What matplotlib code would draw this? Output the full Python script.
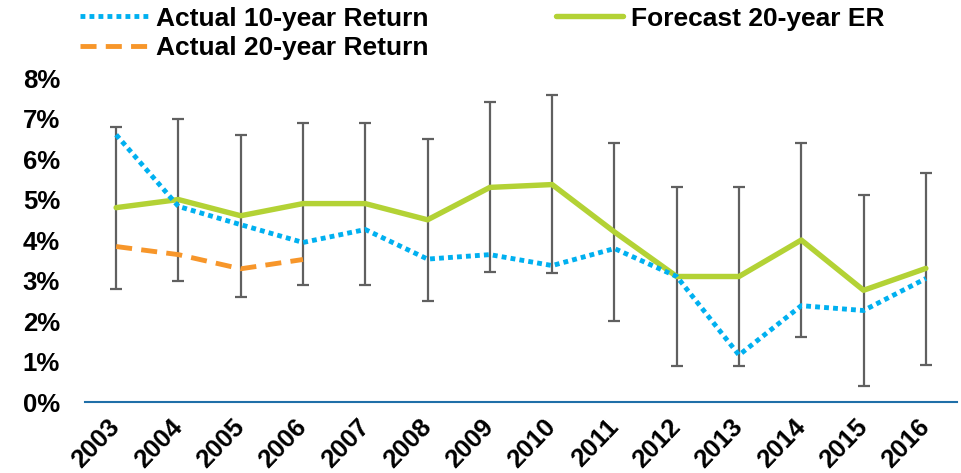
import matplotlib
matplotlib.use("Agg")
import matplotlib.pyplot as plt
import numpy as np

plt.rcParams['font.family'] = ['Liberation Sans', 'DejaVu Sans']
plt.rcParams['font.weight'] = 'bold'

# данные (в процентах)
years = ['2003', '2004', '2005', '2006', '2007', '2008', '2009',
         '2010', '2011', '2012', '2013', '2014', '2015', '2016']
actual_10y = [6.6, 4.83, 4.38, 3.94, 4.26, 3.53, 3.64,
              3.37, 3.79, 3.1, 1.16, 2.38, 2.26, 3.05]
actual_20y = [3.84, 3.64, 3.29, 3.52]
forecast_20y = [4.8, 5.0, 4.6, 4.9, 4.9, 4.5, 5.3,
                5.37, 4.2, 3.1, 3.1, 4.0, 2.76, 3.3]
range_high = [6.8, 7.0, 6.6, 6.9, 6.9, 6.5, 7.4,
              7.57, 6.4, 5.3, 5.3, 6.4, 5.12, 5.66]
range_low = [2.8, 3.0, 2.6, 2.9, 2.9, 2.5, 3.2,
             3.18, 2.0, 0.9, 0.9, 1.6, 0.4, 0.92]

x = np.arange(len(years))
fc = np.array(forecast_20y)
yerr = [fc - np.array(range_low), np.array(range_high) - fc]

fig = plt.figure(figsize=(9.61, 4.73), dpi=100)
ax = fig.add_axes([85 / 961, 0.150, 872 / 961, 0.685])

# диапазоны
ax.errorbar(x, fc, yerr=yerr, fmt='none', ecolor='#606060',
            elinewidth=1.6, capsize=4.5, capthick=1.6, zorder=1)

l10, = ax.plot(x, actual_10y, color='#00B0F0', linewidth=3.5,
               linestyle=(0, (1.0, 0.85)), label='Actual 10-year Return', zorder=3)
l20, = ax.plot(x[:len(actual_20y)], actual_20y, color='#F7962A', linewidth=3.5,
               linestyle=(0, (3.3, 1.9)), label='Actual 20-year Return', zorder=3)
lfc, = ax.plot(x, forecast_20y, color='#B3D235', linewidth=3.9,
               solid_capstyle='round', label='Forecast 20-year ER', zorder=2)

ax.set_xlim(-0.5, len(years) - 0.5)
ax.set_ylim(0, 8)
ax.set_yticks(range(0, 9))
ax.set_yticklabels([f'{v}%' for v in range(0, 9)], fontsize=18.5, fontweight='bold')
ax.set_xticks(x)
ax.set_xticklabels(years, fontsize=18.5, fontweight='bold', rotation=46,
                   ha='right', va='center', rotation_mode='anchor')

for s in ['top', 'right', 'left']:
    ax.spines[s].set_visible(False)
ax.spines['bottom'].set_color('#1F6FA8')
ax.spines['bottom'].set_linewidth(1.5)
ax.tick_params(axis='both', length=0)
ax.tick_params(axis='y', pad=18)
ax.tick_params(axis='x', pad=15)

fig.legend(handles=[l10, l20, lfc], ncol=2, loc='upper left',
           bbox_to_anchor=(79 / 961, 0.989), frameon=False,
           handlelength=2.55, handletextpad=0.3, columnspacing=4.85,
           labelspacing=0.2, borderpad=0.0, borderaxespad=0.05,
           prop={'weight': 'bold', 'size': 19})

fig.savefig('out.png', dpi=100)
